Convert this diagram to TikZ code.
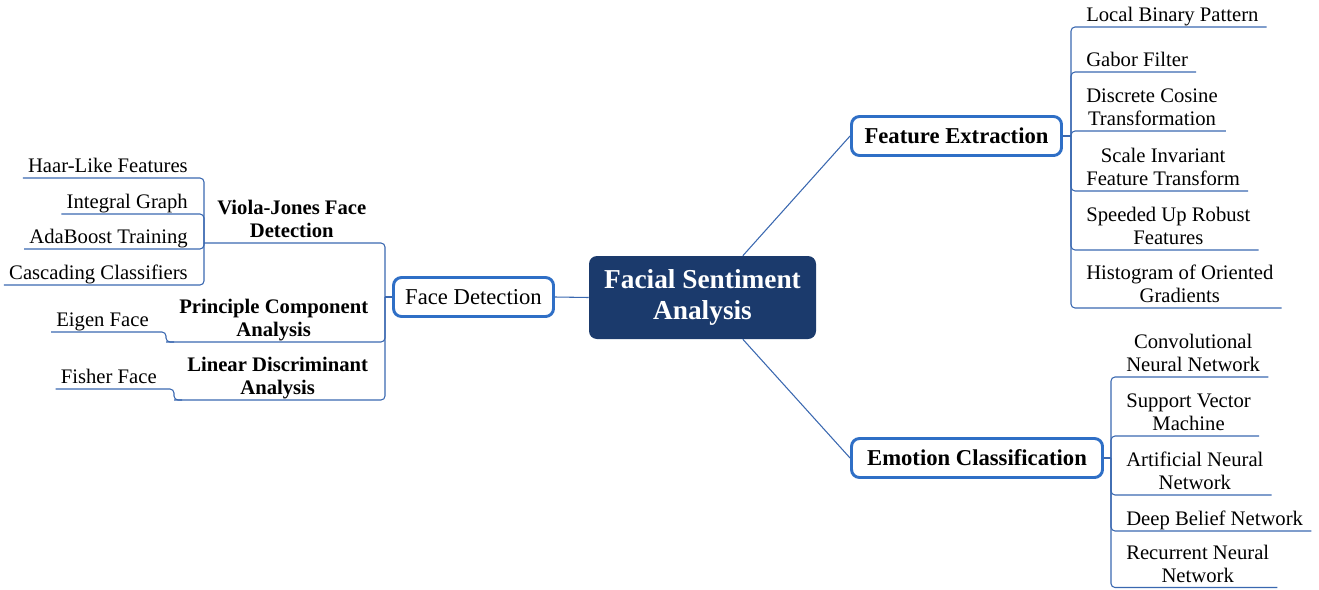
\documentclass[tikz,border=0pt]{standalone}
\usepackage{fontspec}
\setmainfont{Liberation Serif}
\definecolor{navy}{HTML}{1B3A6C}
\definecolor{bord}{HTML}{2F6FC6}
\definecolor{conn}{HTML}{3A68B0}
\newcommand\lowstrut{\rule[-3.75pt]{0pt}{3.75pt}}
\tikzset{
  lnk/.style={draw=conn, line width=0.8pt, rounded corners=3pt},
  mainbox/.style={fill=navy, text=white, rounded corners=6pt, inner sep=0pt,
    minimum width=170.25pt, minimum height=62.25pt, align=center,
    font=\bfseries\fontsize{20.5}{23.25}\selectfont},
  topic/.style={draw=bord, line width=2.2pt, rounded corners=6pt, fill=white,
    inner sep=0pt, minimum height=29.25pt, font=\fontsize{17}{20}\selectfont},
  btopic/.style={topic, font=\bfseries\fontsize{17}{20}\selectfont},
  leaf/.style={inner ysep=0pt, inner xsep=6pt, align=center,
    font=\fontsize{15.5}{17.25}\selectfont},
  bleaf/.style={leaf, inner xsep=9.75pt, font=\bfseries\fontsize{15.5}{17.25}\selectfont},
  gleaf/.style={leaf, inner xsep=3.75pt, anchor=south east}
}
\begin{document}
\begin{tikzpicture}[x=0.75pt, y=-0.75pt]
\useasboundingbox (0,0) rectangle (1319,589);

% central and main topics
\node[mainbox] (main) at (702.5,297.5) {Facial Sentiment\\Analysis};
\node[topic, minimum width=120pt] (fd) at (473.5,297) {Face Detection};
\node[btopic, minimum width=157.5pt] (fe) at (956.5,136) {Feature Extraction};
\node[btopic, minimum width=188.25pt] (ec) at (977,458) {Emotion Classification};

\draw[lnk] (main.west) -- (fd.east);
\draw[lnk] (main.46) -- (fe.west);
\draw[lnk] (main.-46) -- (ec.west);

% junctions
\coordinate (feJ) at (1071,136);
\coordinate (ecJ) at (1111,458);
\coordinate (fdJ) at (385,297);
\draw[lnk] (fe.east) -- (feJ);
\draw[lnk] (ec.east) -- (ecJ);
\draw[lnk] (fd.west) -- (fdJ);

% Feature Extraction children
\node[leaf, anchor=south west] (lbp) at (1078,27) {Local Binary Pattern\lowstrut};
\node[leaf, anchor=south west] (gf) at (1078,72) {Gabor Filter\lowstrut};
\node[leaf, anchor=south west] (dct) at (1078,131) {Discrete Cosine\\Transformation\lowstrut};
\node[leaf, anchor=south west] (sift) at (1078,191) {Scale Invariant\\Feature Transform\lowstrut};
\node[leaf, anchor=south west] (surf) at (1078,250) {Speeded Up Robust\\Features\lowstrut};
\node[leaf, anchor=south west] (hog) at (1078,308) {Histogram of Oriented\\Gradients\lowstrut};
\foreach \n in {lbp,gf,dct,sift,surf,hog}
  \draw[lnk] (feJ) -- (feJ |- \n.south) -- (\n.south east);

% Emotion Classification children
\node[leaf, anchor=south west] (cnn) at (1118,377) {Convolutional\\Neural Network\lowstrut};
\node[leaf, anchor=south west] (svm) at (1118,436) {Support Vector\\Machine\lowstrut};
\node[leaf, anchor=south west] (ann) at (1118,495) {Artificial Neural\\Network\lowstrut};
\node[leaf, anchor=south west] (dbn) at (1118,531) {Deep Belief Network\lowstrut};
\node[leaf, anchor=south west] (rnn) at (1118,587.5) {Recurrent Neural\\Network\lowstrut};
\foreach \n in {cnn,svm,ann,dbn,rnn}
  \draw[lnk] (ecJ) -- (ecJ |- \n.south) -- (\n.south east);

% Face Detection children
\node[bleaf, anchor=south west] (vj) at (204,243) {Viola-Jones Face\\Detection\lowstrut};
\node[bleaf, anchor=south west] (pca) at (166,342) {Principle Component\\Analysis\lowstrut};
\node[bleaf, anchor=south west] (lda) at (174,400) {Linear Discriminant\\Analysis\lowstrut};
\foreach \n in {vj,pca,lda}
  \draw[lnk] (fdJ) -- (fdJ |- \n.south) -- (\n.south west);

% Viola-Jones children
\node[gleaf] (haar) at (193,178) {Haar-Like Features\lowstrut};
\node[gleaf] (ig) at (193,214) {Integral Graph\lowstrut};
\node[gleaf] (ada) at (193,249) {AdaBoost Training\lowstrut};
\node[gleaf] (cc) at (193,285) {Cascading Classifiers\lowstrut};
\foreach \n in {haar,ig,ada,cc}
  \draw[lnk] (vj.south west) -- (vj.south west |- \n.south) -- (\n.south west);

% PCA and LDA children
\node[gleaf] (eig) at (154,332) {Eigen Face\lowstrut};
\node[gleaf] (fis) at (162,389) {Fisher Face\lowstrut};
\draw[lnk] ([xshift=6pt]pca.south west) -- (pca.south west) -- (pca.south west |- eig.south) -- (eig.south west);
\draw[lnk] ([xshift=6pt]lda.south west) -- (lda.south west) -- (lda.south west |- fis.south) -- (fis.south west);
\end{tikzpicture}
\end{document}
